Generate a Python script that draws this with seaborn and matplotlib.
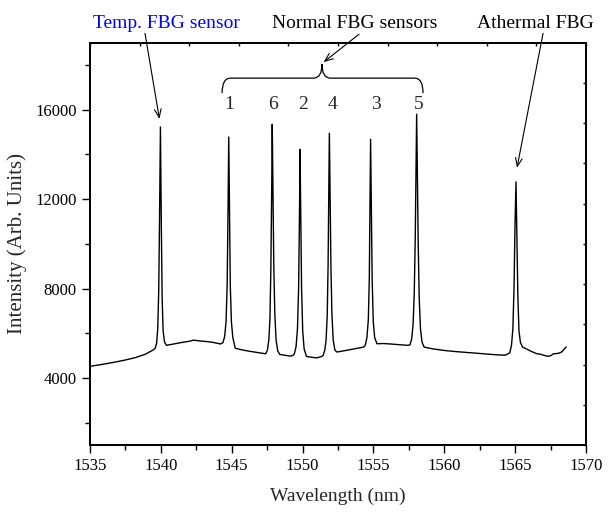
import matplotlib
matplotlib.use("Agg")
import matplotlib.pyplot as plt
from matplotlib.path import Path
from matplotlib.patches import PathPatch
import seaborn as sns
import pandas as pd

# ---------------- data ----------------
wavelength = [
    1535.0, 1535.8, 1536.6, 1537.4, 1538.2, 1538.9, 1539.45,
    1539.60, 1539.70, 1539.78, 1539.85, 1539.91, 1539.97, 1540.03, 1540.09, 1540.16, 1540.26, 1540.40,
    1540.9, 1541.5, 1542.0, 1542.3, 1542.7, 1543.2, 1543.7, 1544.2,
    1544.38, 1544.50, 1544.60, 1544.68, 1544.74, 1544.79, 1544.84, 1544.90, 1544.98, 1545.08, 1545.25,
    1545.7, 1546.2, 1546.8, 1547.3,
    1547.40, 1547.52, 1547.62, 1547.70, 1547.76, 1547.82, 1547.86, 1547.91, 1547.97, 1548.04, 1548.13, 1548.25, 1548.40,
    1548.8, 1549.1, 1549.3,
    1549.42, 1549.54, 1549.64, 1549.72, 1549.78, 1549.82, 1549.87, 1549.93, 1550.01, 1550.11, 1550.28,
    1550.7, 1551.0, 1551.3,
    1551.45, 1551.57, 1551.66, 1551.74, 1551.80, 1551.85, 1551.89, 1551.94, 1552.00, 1552.07, 1552.16, 1552.28, 1552.42,
    1552.8, 1553.3, 1553.8, 1554.3,
    1554.42, 1554.54, 1554.64, 1554.71, 1554.76, 1554.80, 1554.85, 1554.91, 1554.99, 1555.09, 1555.25,
    1555.7, 1556.2, 1556.8, 1557.4,
    1557.58, 1557.70, 1557.80, 1557.88, 1557.95, 1558.00, 1558.05, 1558.10, 1558.16, 1558.23, 1558.32, 1558.43, 1558.58,
    1559.2, 1560.0, 1560.8, 1561.6, 1562.4, 1563.2, 1563.8, 1564.3,
    1564.62, 1564.74, 1564.84, 1564.92, 1564.99, 1565.06, 1565.12, 1565.19, 1565.27, 1565.37, 1565.52,
    1565.8, 1566.1, 1566.5, 1566.8, 1567.1, 1567.3, 1567.5, 1567.7, 1567.9, 1568.1, 1568.3, 1568.6,
]
intensity = [
    4520, 4600, 4690, 4790, 4910, 5060, 5250,
    5330, 5550, 6200, 7900, 11300, 15230, 11000, 7600, 6100, 5600, 5460,
    5520, 5590, 5640, 5690, 5660, 5630, 5590, 5520,
    5580, 5850, 6500, 8200, 11500, 14780, 11600, 8100, 6500, 5800, 5330,
    5260, 5200, 5140, 5090,
    5080, 5250, 5700, 6700, 8800, 12300, 15350, 12500, 9000, 6900, 5700, 5200, 5050,
    5010, 4980, 5000,
    5080, 5400, 6200, 8000, 11200, 14230, 11200, 8000, 6100, 5300, 4960,
    4920, 4900, 4950,
    5000, 5250, 5700, 6800, 9000, 12300, 14950, 12300, 9000, 6900, 5700, 5250, 5160,
    5200, 5260, 5320, 5380,
    5450, 5800, 6600, 8500, 11800, 14680, 11800, 8400, 6500, 5800, 5530,
    5540, 5520, 5490, 5460,
    5480, 5750, 6400, 7800, 10200, 13200, 15800, 13200, 10000, 7600, 6200, 5600, 5380,
    5300, 5230, 5180, 5140, 5100, 5060, 5030, 5020,
    5120, 5450, 6200, 8000, 10800, 12775, 10400, 7700, 6100, 5600, 5380,
    5300, 5200, 5090, 5060, 5000, 4970, 4990, 5080, 5090, 5110, 5170, 5385,
]

x_ticks = [1535, 1540, 1545, 1550, 1555, 1560, 1565, 1570]
y_ticks = [4000, 8000, 12000, 16000]
sensor_labels = ["1", "6", "2", "4", "3", "5"]
sensor_label_x = [1544.83, 1547.93, 1550.05, 1552.09, 1555.18, 1558.17]

df = pd.DataFrame({"Wavelength": wavelength, "Intensity": intensity})

# ---------------- figure ----------------
sns.set_theme(style="ticks")
plt.rcParams["font.family"] = ["Liberation Serif", "DejaVu Serif"]

fig = plt.figure(figsize=(6.12, 5.15), dpi=100)
ax = fig.add_axes([90 / 612, 1 - 445 / 515, (586 - 90) / 612, (445 - 42.7) / 515])

sns.lineplot(data=df, x="Wavelength", y="Intensity", ax=ax, color="black",
             linewidth=1.0, sort=False, estimator=None)

ax.set_xlim(1535, 1570)
ax.set_ylim(1000, 19000)
ax.set_xticks(x_ticks)
ax.set_xticks([1537.5 + 5 * i for i in range(7)], minor=True)
ax.set_yticks(y_ticks)
ax.set_yticks([2000, 6000, 10000, 14000, 18000], minor=True)
ax.tick_params(axis="both", which="major", direction="out", length=6, width=1.0,
               labelsize=12, color="black", labelcolor="black")
ax.tick_params(axis="both", which="minor", direction="out", length=3.5, width=1.0, color="black")
ax.set_xlabel("Wavelength (nm)", fontsize=14, labelpad=10)
ax.set_ylabel("Intensity (Arb. Units)", fontsize=15, labelpad=6)
for s in ax.spines.values():
    s.set_linewidth(1.3)
    s.set_color("black")

# top / right secondary tick marks (10 divisions, unlabeled)
axr = ax.twinx()
axr.set_ylim(0, 10)
axr.set_yticks(range(11))
axr.set_yticklabels([])
axr.tick_params(axis="y", direction="in", length=2.5, width=1.0, color="black")
axt = ax.twiny()
axt.set_xlim(0, 10)
axt.set_xticks(range(11))
axt.set_xticklabels([])
axt.tick_params(axis="x", direction="in", length=2.5, width=1.0, color="black")
for a in (axr, axt):
    for s in a.spines.values():
        s.set_linewidth(1.3)
        s.set_color("black")

# ---------------- annotations ----------------
fs = 14
ax.text(1540.36, 19870, "Temp. FBG sensor", color="blue", fontsize=fs,
        ha="center", va="center", clip_on=False)
ax.text(1553.70, 19870, "Normal FBG sensors", color="black", fontsize=fs,
        ha="center", va="center", clip_on=False)
ax.text(1566.40, 19870, "Athermal FBG", color="black", fontsize=fs,
        ha="center", va="center", clip_on=False)

arrow_kw = dict(arrowstyle="->,head_length=0.5,head_width=0.2", color="black", lw=0.8,
                shrinkA=0, shrinkB=0)
ax.annotate("", xy=(1539.90, 15586), xytext=(1538.88, 19420),
            arrowprops=arrow_kw, annotation_clip=False)
ax.annotate("", xy=(1551.48, 18128), xytext=(1553.98, 19377),
            arrowprops=arrow_kw, annotation_clip=False)
ax.annotate("", xy=(1565.13, 13400), xytext=(1566.97, 19420),
            arrowprops=arrow_kw, annotation_clip=False)

for lab, xv in zip(sensor_labels, sensor_label_x):
    ax.text(xv, 16254, lab, fontsize=fs, ha="center", va="center")

# curly brace over sensors 1-5
yb, yh, yc = 16745, 17414, 18040
xl, xm, xr = 1544.32, 1551.37, 1558.50
verts = [
    (xl, yb), (xl, yh), (xl + 0.6, yh),
    (xm - 0.6, yh),
    (xm, yh), (xm, yc),
    (xm, yh), (xm + 0.6, yh),
    (xr - 0.6, yh),
    (xr, yh), (xr, yb),
]
codes = [Path.MOVETO, Path.CURVE3, Path.CURVE3,
         Path.LINETO,
         Path.CURVE3, Path.CURVE3,
         Path.CURVE3, Path.CURVE3,
         Path.LINETO,
         Path.CURVE3, Path.CURVE3]
ax.add_patch(PathPatch(Path(verts, codes), facecolor="none", edgecolor="black", lw=0.9))

fig.savefig("out.png", dpi=100)
